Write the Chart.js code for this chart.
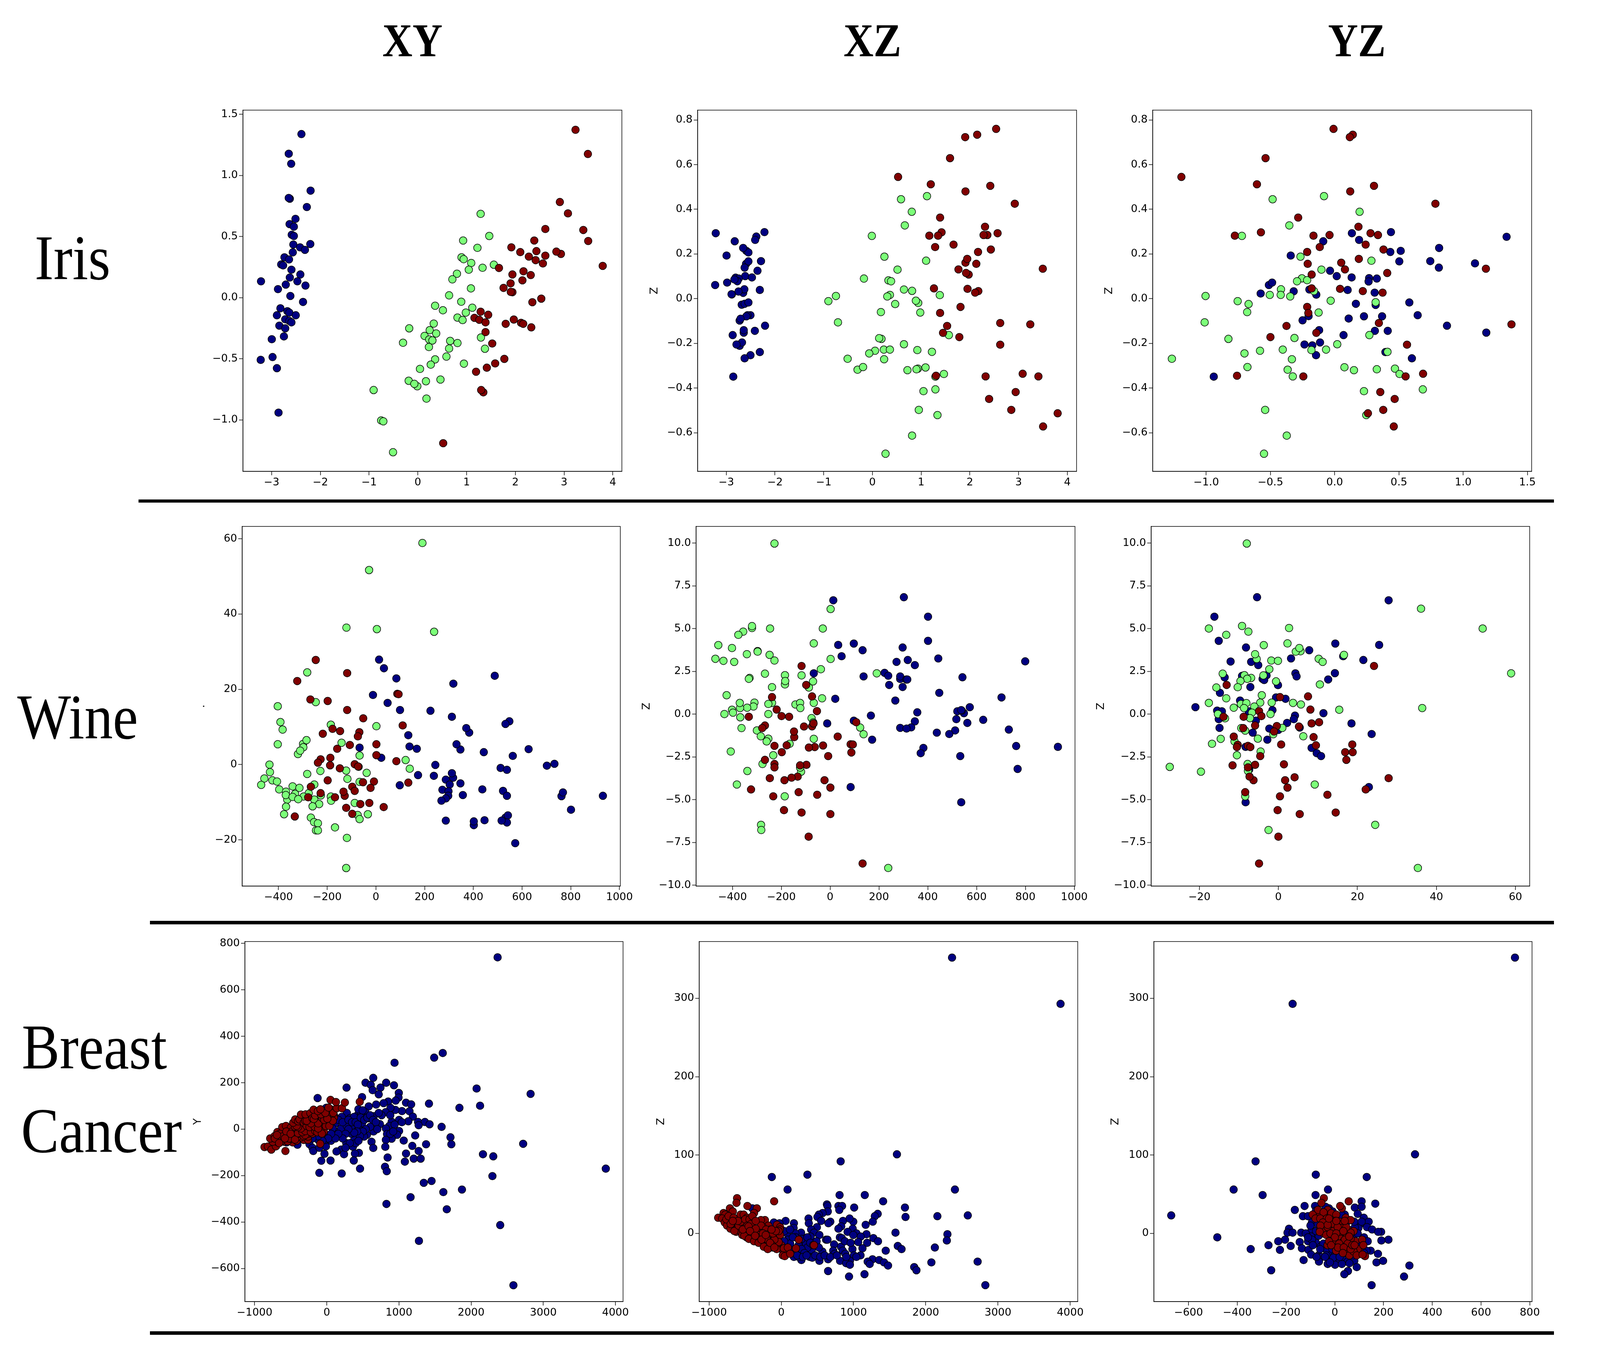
<!DOCTYPE html>
<html>
<head>
<meta charset="utf-8">
<title>PCA projections</title>
<script src="https://cdn.jsdelivr.net/npm/chart.js@4"></script>
<style>
    html, body { margin: 0; padding: 0; background: #ffffff; overflow: hidden; }
    #page { position: relative; width: 100vw; height: 3480px; overflow: hidden; background: #ffffff; }
    #overlay { position: absolute; left: 0; top: 0; width: 4620px; height: 3480px; transform-origin: 0 0; }
    canvas { position: absolute; }
    .head { position: absolute; font-family: "Liberation Serif", serif; color: #000000; line-height: 1; white-space: nowrap; }
    .col { font-size: 120px; font-weight: bold; transform: translateX(-50%); }
    .row { font-size: 164px; }
    .rule { position: absolute; background: #000000; }
</style>
</head>
<body>
<div id="page">
    <div id="overlay">
        <div class="head col" style="left:1191px;top:44px">XY</div>
        <div class="head col" style="left:2519px;top:44px">XZ</div>
        <div class="head col" style="left:3918px;top:44px">YZ</div>
        <div class="head row" style="left:100px;top:578px">Iris</div>
        <div class="head row" style="left:50px;top:1754px">Wine</div>
        <div class="head row" style="left:63px;top:2599px">Breast</div>
        <div class="head row" style="left:61px;top:2813px">Cancer</div>
        <div class="rule" style="left:400px;top:1279px;width:4087px;height:8px"></div>
        <div class="rule" style="left:433px;top:2358px;width:4054px;height:9px"></div>
        <div class="rule" style="left:433px;top:3409px;width:4054px;height:9px"></div>
    </div>
</div>
<script>
const NAVY = '#000080';
const LIME = '#7cff79';
const MAROON = '#800000';

// the window can come out narrower than the 4620 wide reference, so x positions follow it
const SX = window.innerWidth / 4620;

// ---- Iris ----
const irisXYBlue = [[-2.388,1.339],[-2.648,1.178],[-2.598,1.096],[-2.2,.876],[-2.626,.81],[-2.648,.816],[-2.277,.742],[-2.51,.645],[-2.631,.602],[-2.543,.581],[-2.587,.515],[-2.543,.505],[-2.554,.435],[-2.206,.439],[-2.416,.412],[-2.316,.391],[-2.565,.371],[-2.736,.33],[-2.642,.313],[-2.803,.272],[-2.764,.264],[-2.593,.229],[-2.41,.19],[-2.626,.165],[-3.217,.134],[-2.471,.134],[-2.709,.107],[-2.305,.099],[-2.869,.07],[-2.615,.014],[-2.355,-.035],[-2.819,-.087],[-2.676,-.111],[-2.637,-.122],[-2.891,-.144],[-2.504,-.144],[-2.72,-.177],[-2.637,-.19],[-2.593,-.202],[-2.841,-.229],[-2.72,-.251],[-2.747,-.317],[-2.996,-.34],[-2.98,-.486],[-3.223,-.509],[-2.891,-.577],[-2.858,-.941]];
const irisXYGreen = [[1.288,.686],[1.465,.505],[.929,.468],[1.222,.408],[.896,.33],[.94,.315],[1.095,.284],[1.559,.27],[1.327,.245],[1.045,.229],[.802,.196],[.708,.15],[1.089,.076],[.641,.019],[.89,-.033],[.354,-.066],[1.117,-.082],[.514,-.103],[.984,-.122],[.813,-.163],[.918,-.183],[.326,-.212],[-.177,-.251],[.243,-.266],[.376,-.293],[.138,-.313],[1.294,-.326],[.232,-.342],[.299,-.35],[.663,-.354],[.813,-.371],[-.304,-.369],[.227,-.404],[.641,-.416],[1.376,-.418],[.586,-.482],[.354,-.505],[.945,-.54],[.265,-.548],[.044,-.583],[.464,-.67],[-.188,-.68],[.166,-.684],[-.011,-.725],[-.072,-.705],[-.907,-.756],[.177,-.826],[-.752,-1.005],[-.708,-1.012],[-.509,-1.265]];
const irisXYRed = [[3.234,1.374],[3.488,1.176],[2.913,.783],[3.079,.69],[2.615,.562],[3.394,.554],[3.494,.464],[2.388,.468],[1.918,.412],[2.101,.373],[2.432,.381],[2.935,.358],[2.841,.377],[2.277,.336],[2.615,.344],[2.416,.307],[2.565,.28],[3.792,.26],[1.664,.243],[2.167,.216],[1.94,.19],[2.316,.185],[2.145,.142],[1.758,.08],[1.94,.045],[1.907,.047],[1.902,.117],[2.532,-.008],[2.349,-.037],[1.288,-.115],[1.443,-.14],[1.161,-.165],[1.26,-.181],[1.388,-.202],[1.968,-.179],[1.802,-.214],[2.117,-.206],[2.161,-.214],[2.327,-.243],[1.388,-.282],[1.526,-.375],[1.774,-.501],[1.586,-.538],[1.415,-.573],[1.194,-.606],[1.343,-.775],[1.299,-.756],[.52,-1.191]];

const irisXZBlue = [[-3.216,.293],[-2.826,.257],[-2.383,.278],[-2.407,.263],[-2.216,.298],[-2.587,.214],[-2.545,.207],[-2.653,.227],[-2.994,.193],[-2.287,.168],[-2.593,.156],[-2.545,.167],[-2.623,.139],[-2.359,.125],[-2.611,.101],[-2.473,.095],[-2.808,.094],[-2.743,.09],[-2.772,.078],[-2.832,.086],[-2.982,.072],[-3.228,.061],[-2.653,.026],[-2.629,.042],[-2.311,.039],[-2.749,.032],[-2.886,.019],[-2.892,.02],[-2.683,-.027],[-2.623,-.023],[-2.545,-.017],[-2.503,-.074],[-2.563,-.074],[-2.587,-.079],[-2.725,-.098],[-2.707,-.09],[-2.204,-.121],[-2.641,-.152],[-2.641,-.141],[-2.413,-.144],[-2.868,-.163],[-2.725,-.211],[-2.677,-.196],[-2.79,-.205],[-2.311,-.239],[-2.503,-.253],[-2.623,-.267],[-2.856,-.349]];
const irisXZGreen = [[1.12,.459],[.587,.445],[.808,.389],[.665,.328],[-.012,.281],[.246,.188],[1.102,.17],[.515,.13],[-.174,.09],[.329,.082],[.383,.078],[.647,.041],[.814,.035],[.359,.017],[.305,.01],[1.383,.016],[-.749,.012],[-.904,-.011],[.94,-.019],[.892,-.009],[.467,-.024],[.174,-.06],[.982,-.062],[-.707,-.106],[1.569,-.163],[.186,-.18],[.138,-.177],[.647,-.204],[.922,-.23],[.054,-.233],[.234,-.228],[.359,-.228],[1.222,-.238],[-.066,-.245],[-.509,-.269],[.24,-.271],[-.305,-.318],[-.192,-.306],[.719,-.32],[.934,-.313],[.904,-.316],[1.09,-.308],[1.293,-.349],[1.467,-.337],[1.048,-.414],[1.293,-.406],[.952,-.498],[1.335,-.521],[.814,-.613],[.269,-.694]];
const irisXZRed = [[2.539,.76],[1.904,.723],[2.15,.734],[1.593,.629],[.527,.545],[1.198,.512],[2.419,.505],[1.91,.48],[2.922,.425],[1.389,.363],[2.311,.322],[2.359,.285],[2.281,.285],[1.419,.297],[2.569,.293],[1.168,.282],[1.347,.282],[1.665,.242],[1.287,.231],[2.431,.22],[2.168,.209],[1.91,.161],[1.946,.178],[2.132,.156],[3.497,.134],[1.766,.131],[1.976,.108],[1.922,.115],[1.263,.046],[1.952,.044],[2.174,.034],[2.108,.027],[1.808,-.037],[1.389,-.064],[2.623,-.109],[3.24,-.115],[1.533,-.122],[1.449,-.153],[1.784,-.172],[2.623,-.206],[1.305,-.345],[2.323,-.348],[3.084,-.336],[3.407,-.348],[2.94,-.418],[2.395,-.449],[2.85,-.498],[3.802,-.513],[3.503,-.572]];

const irisYZBlue = [[1.338,.277],[.813,.227],[.134,.293],[.19,.263],[.438,.298],[-.089,.257],[.514,.214],[.433,.209],[-.342,.193],[.503,.167],[.744,.168],[1.092,.158],[.811,.139],[-.036,.125],[.016,.101],[.132,.095],[.268,.092],[.328,.09],[.264,.077],[-.512,.061],[-.487,.072],[-.319,.033],[-.576,.023],[-.197,.041],[.101,.039],[.311,.027],[-.143,.018],[.581,-.017],[.165,-.023],[.319,-.028],[.369,-.079],[.646,-.074],[.228,-.079],[.109,-.089],[-.203,-.078],[-.25,-.097],[.874,-.121],[-.121,-.141],[.313,-.144],[.413,-.144],[1.18,-.152],[.069,-.163],[-.114,-.196],[-.235,-.205],[-.174,-.209],[.395,-.239],[-.145,-.253],[.601,-.267],[-.941,-.349]];
const irisYZGreen = [[-.083,.459],[-.483,.445],[.194,.389],[-.353,.328],[-.722,.281],[-.266,.188],[.286,.17],[-.103,.13],[-.255,.091],[-.293,.078],[-.214,.083],[-.418,.042],[-.161,.034],[-.505,.017],[-.42,.017],[-.346,.01],[-1.005,.012],[-.755,-.011],[-.031,-.009],[.319,-.016],[-.67,-.024],[-.681,-.06],[-.125,-.062],[-1.012,-.106],[.27,-.163],[-.827,-.18],[-.313,-.176],[.02,-.204],[.411,-.238],[-.067,-.228],[-.181,-.23],[-.404,-.228],[-.581,-.233],[-.702,-.245],[-1.267,-.269],[-.333,-.271],[-.679,-.306],[-.366,-.318],[.15,-.32],[.076,-.307],[.328,-.316],[.469,-.313],[.505,-.337],[-.326,-.348],[.228,-.414],[.686,-.406],[-.541,-.498],[.246,-.521],[-.373,-.613],[-.55,-.694]];
const irisYZRed = [[-.009,.76],[.141,.734],[.118,.723],[-.538,.629],[-1.193,.545],[-.605,.512],[.306,.505],[.121,.48],[.784,.425],[-.284,.363],[.185,.322],[-.574,.297],[.279,.293],[.337,.285],[-.04,.285],[-.165,.282],[-.777,.282],[.241,.242],[-.116,.231],[.38,.22],[-.214,.209],[.188,.178],[.051,.161],[-.21,.156],[1.177,.134],[.08,.131],[.409,.115],[-.179,.108],[.042,.044],[-.179,.046],[.219,.034],[.373,.027],[-.214,-.037],[-.205,-.064],[-.375,-.122],[.344,-.109],[1.376,-.115],[-.143,-.153],[-.5,-.172],[.563,-.206],[-.76,-.345],[-.244,-.348],[.552,-.348],[.688,-.336],[.355,-.418],[.467,-.449],[.378,-.498],[.259,-.513],[.46,-.572]];

// ---- Wine ----
const wineXYBlue = [[13,27.9],[33,25.6],[84,22.9],[488,23.6],[318,21.5],[-12,18.5],[48,16.4],[99,14.5],[224,14.3],[312,12.7],[548,11.5],[532,10.8],[383,8.5],[371,9.7],[133,7.8],[347,4],[331,5.4],[-67,4.5],[138,4.8],[168,4.2],[443,3.3],[627,4.1],[562,2.3],[22,1.8],[733,.2],[702,-.3],[244,-.1],[512,-.9],[538,-1.4],[173,-2.8],[238,-3],[317,-3.5],[312,-2.3],[287,-4],[347,-5],[303,-5.3],[98,-5.5],[437,-6.6],[762,-8.4],[768,-7.4],[273,-6.7],[298,-7.1],[522,-7],[932,-8.3],[357,-8.1],[538,-8.3],[297,-8.3],[287,-9],[269,-9.6],[801,-12],[532,-14.1],[542,-13.5],[287,-14.9],[446,-14.8],[402,-16.1],[402,-15.1],[538,-15.4],[516,-14.9],[572,-20.9]];
const wineXYGreen = [[191,58.9],[-28,51.7],[-121,36.4],[4,36],[239,35.3],[-282,24.5],[-247,16.6],[-403,15.5],[-392,11.3],[-383,9.3],[-185,10.6],[2,10.2],[-403,5.4],[-299,5.5],[-285,6.5],[-298,4.6],[-141,5.8],[-320,2.8],[-311,3.7],[-67,2.4],[122,1.2],[-437,0],[-71,-.6],[139,-1.1],[-435,-2],[-122,-1.6],[-228,-1.7],[-38,-2.2],[-282,-2.5],[-458,-3.7],[-425,-4.2],[-406,-4.5],[-117,-3.8],[-67,-4.6],[-253,-5.3],[-471,-5.4],[-342,-5.8],[-314,-6.2],[-397,-6.6],[-276,-7.6],[-369,-7.2],[-332,-7.8],[-226,-8.2],[-297,-8.5],[-185,-8.5],[-364,-9.3],[-370,-8.1],[-342,-8.6],[-319,-9.2],[-253,-9.3],[-184,-9.6],[-87,-10.2],[-233,-10.5],[-260,-11.1],[-369,-11.2],[-377,-13.2],[-75,-13.4],[-33,-13.2],[-267,-14.1],[-67,-14.5],[-254,-15.3],[-246,-17.5],[-238,-15.6],[-238,-17.5],[-168,-16.7],[-119,-19.5],[-122,-27.5]];
const wineXYRed = [[-247,27.8],[-118,24.3],[-323,22.2],[88,18.8],[93,18.7],[-269,17.3],[-198,16.9],[-118,14.5],[-52,12.3],[110,10.4],[-178,9.5],[-147,8.9],[-68,8.6],[-218,8.2],[-74,7.5],[-107,5.2],[2,5.4],[-159,4.2],[2,2.5],[-187,1.8],[-227,1.4],[84,.9],[-238,.5],[-87,.1],[-188,-.2],[-73,-.5],[-148,-1],[-198,-4.2],[-8,-4.5],[-53,-4.7],[133,-4.8],[-97,-5.9],[-267,-5.9],[-22,-6.2],[-87,-7],[-128,-8.3],[-133,-7.2],[-227,-7.6],[-278,-8.7],[-168,-8.7],[-27,-10.2],[-64,-10.5],[32,-11.3],[-122,-11.5],[-97,-13.1],[-333,-13.8]];

const wineXZBlue = [[302,6.84],[13,6.66],[401,5.7],[401,4.29],[97,4.13],[33,4.05],[133,3.74],[297,3.9],[47,3.39],[443,3.26],[799,3.09],[272,3.06],[318,3.17],[347,2.87],[-67,2.39],[223,2.42],[238,2.25],[137,2.21],[287,2.06],[287,2.21],[542,2.16],[312,2.03],[316,2.03],[242,1.71],[297,1.59],[447,1.25],[21,.9],[702,.98],[267,.8],[572,.41],[357,.11],[548,.06],[521,.17],[539,.21],[537,.24],[167,-.08],[517,-.29],[627,-.33],[97,-.38],[347,-.42],[562,-.51],[-12,-.54],[332,-.77],[287,-.8],[313,-.84],[732,-.9],[512,-.95],[437,-1.08],[488,-1.16],[172,-1.49],[762,-1.86],[933,-1.91],[382,-1.97],[371,-2.28],[533,-2.45],[768,-3.2],[84,-4.26],[537,-5.15]];
const wineXZGreen = [[-228,9.98],[2,6.15],[-320,5.04],[-320,5.15],[-356,4.83],[-376,4.64],[-246,5.01],[-30,5.01],[-67,4.14],[-458,4.04],[-402,3.87],[-297,3.69],[-297,3.66],[-341,3.51],[-248,3.47],[-470,3.24],[-437,3.12],[-393,3.06],[-228,3.14],[2,3.23],[-38,2.63],[191,2.39],[-267,2.37],[-185,2.28],[-117,2.27],[-330,2.12],[-333,2.07],[-70,1.92],[-185,1.74],[-184,1.94],[-87,1.56],[-238,1.58],[-424,1.11],[-33,.93],[-67,.66],[-310,.68],[-238,.66],[-253,.6],[-142,.57],[-123,.66],[-314,.45],[-340,.38],[-369,.36],[-370,.66],[-122,.36],[-402,.26],[-398,.09],[-433,.01],[-253,.01],[-368,-.18],[-76,-.23],[-69,-.48],[-363,-.81],[123,-.78],[-300,-.95],[137,-1.17],[-284,-1.29],[-253,-1.43],[-67,-1.44],[-166,-1.73],[-260,-1.59],[-407,-2.18],[-233,-2.4],[-277,-2.91],[-119,-3.36],[-123,-3.12],[-339,-3.32],[-382,-4.11],[-186,-4.8],[-283,-6.47],[-282,-6.77],[238,-8.99]];
const wineXZRed = [[-117,2.82],[-98,1.71],[-238,1],[-74,1.04],[-219,.27],[-54,.18],[-199,-.11],[-168,-.15],[-333,-.15],[107,-.47],[-74,-.71],[-68,-.54],[-267,-.66],[-107,-.72],[-278,-.81],[-147,-1.34],[-148,-1.01],[31,-1.31],[84,-1.76],[93,-1.77],[-29,-1.83],[-178,-1.82],[-228,-1.85],[-63,-1.92],[-87,-1.95],[-198,-2.22],[87,-2.24],[-8,-2.45],[-267,-2.67],[-228,-2.91],[-97,-2.96],[-123,-2.99],[-228,-3.11],[-133,-3.65],[-158,-3.71],[-247,-3.74],[-187,-3.86],[-23,-3.86],[1,-4.29],[-324,-4.4],[-129,-4.56],[-53,-4.71],[-233,-4.8],[-189,-5.61],[-117,-5.75],[1,-5.84],[-88,-7.16],[133,-8.73]];

const wineYZBlue = [[-5.4,6.84],[27.9,6.66],[-16.2,5.7],[-15.1,4.29],[14.4,4.13],[25.5,4.05],[-8.2,3.9],[7.8,3.74],[16.4,3.39],[3.2,3.26],[21.5,3.17],[-12.1,3.08],[-6.9,3.06],[-5.1,2.87],[4.3,2.39],[14.3,2.4],[4.6,2.21],[-3,2.27],[-13.6,2.15],[-9.2,2.24],[-4,2.06],[-3.6,2],[12.6,2.03],[-7.1,1.59],[-.1,1.7],[-14.8,1.25],[-.6,.98],[1.8,.9],[-9.7,.8],[-21,.41],[-15.5,.21],[-14.3,.17],[-7.5,.17],[-1.5,.24],[11.4,.06],[4.2,-.08],[-15.1,-.29],[3.9,-.29],[-5.7,-.38],[2.2,-.51],[18.5,-.54],[-14.9,-.8],[5.4,-.78],[-2.3,-.84],[0,-.92],[-6.5,-1.08],[23.6,-1.16],[-2.8,-1.49],[8.4,-1.97],[-8.3,-1.91],[9.7,-2.28],[10.8,-2.45],[-7.4,-3.24],[22.9,-4.26],[-8.3,-5.15]];
const wineYZGreen = [[-8,9.98],[36.1,6.17],[51.7,5.01],[-17.6,5.01],[2.7,5.04],[-9.2,5.16],[-7.6,4.83],[-13.2,4.64],[-3.7,4.04],[2.3,4.14],[5.6,3.68],[4.4,3.66],[5.3,3.87],[-5.5,3.23],[-5.9,3.51],[16.6,3.47],[10.2,3.24],[11.2,3.06],[-1.8,3.14],[-.1,3.12],[-2.3,2.63],[-14.1,2.37],[58.9,2.39],[-8.6,2.28],[-3.8,2.27],[-6.9,2.12],[-7.9,2.07],[-9.6,1.94],[-.6,1.92],[10.5,1.74],[-15.7,1.56],[-10.3,1.58],[-4.2,1.11],[-13.2,.93],[-17.6,.66],[-1.7,.68],[-4.6,.68],[3.7,.66],[-9.5,.59],[-8.1,.65],[5.7,.57],[-8.7,.36],[-6.1,.45],[-11.3,.38],[36.4,.36],[15.4,.26],[-6.7,.09],[-15.3,.01],[-2,.01],[-13.5,-.24],[-7.2,-.23],[1,-.8],[-9.4,-.81],[-8.4,-.96],[-1.3,-1.17],[6.3,-1.29],[-5.2,-1.43],[-14.6,-1.44],[-11.1,-1.59],[-16.8,-1.73],[-4.5,-2.18],[-10.5,-2.4],[-7.8,-2.91],[-27.5,-3.08],[-7.6,-3.12],[-19.6,-3.36],[-7.7,-3.32],[9.2,-4.11],[-8.4,-4.8],[24.5,-6.47],[-2.5,-6.77],[35.3,-8.99]];
const wineYZRed = [[24.2,2.82],[-13.1,1.71],[7.5,1.04],[.4,1],[8.1,.27],[-4.9,.18],[-4.3,-.11],[-8.8,-.15],[-13.9,-.15],[10.3,-.47],[8.4,-.54],[-5.9,-.66],[5.2,-.72],[-.4,-.69],[-8.9,-.81],[-1.1,-1.01],[8.9,-1.34],[-11.3,-1.31],[18.7,-1.77],[.7,-1.77],[9.5,-1.82],[-10.3,-1.79],[-7.7,-1.85],[-7.1,-1.92],[-10.5,-1.92],[16.9,-2.22],[18.8,-2.22],[-4.6,-2.45],[17.2,-2.67],[1.4,-2.93],[-11.6,-2.99],[-5.9,-2.96],[-7.7,-3.11],[4.1,-3.69],[-6.3,-3.86],[-7.3,-3.65],[27.9,-3.74],[1.7,-3.86],[2.3,-4.29],[22.1,-4.4],[-8.4,-4.56],[12.4,-4.71],[.4,-4.8],[-.2,-5.61],[14.5,-5.75],[5.4,-5.84],[0,-7.16],[-4.9,-8.73]];

// ---- Breast cancer ----
const breastXYBlue = [[2367,740],[1607,328],[1488,308],[939,286],[644,221],[537,200],[609,191],[636,168],[823,200],[931,189],[744,179],[274,179],[720,150],[489,138],[-127,134],[998,156],[2076,175],[2824,152],[2124,101],[1838,92],[1416,110],[994,136],[955,123],[851,119],[788,112],[684,106],[581,98],[1098,114],[1169,107],[1146,77],[1042,78],[951,83],[883,92],[815,73],[652,56],[533,73],[430,62],[278,70],[318,47],[207,53],[581,47],[1193,54],[1130,34],[1002,40],[899,32],[1265,31],[1360,31],[1273,17],[1424,21],[1591,10],[736,22],[648,19],[867,14],[489,25],[239,21],[342,12],[445,0],[648,-10],[819,3],[1002,-8],[835,-21],[975,-24],[899,-41],[1225,-27],[1714,-35],[1726,-65],[1376,-65],[1066,-49],[819,-46],[620,-54],[557,-24],[517,-32],[382,-44],[338,-19],[247,-15],[103,-6],[187,-32],[60,-50],[270,-60],[1185,-72],[811,-76],[644,-81],[362,-76],[-12,-74],[-406,-67],[-239,-65],[-199,-80],[-187,-94],[-103,-80],[-32,-106],[199,-88],[135,-96],[239,-108],[445,-102],[390,-105],[1098,-105],[1273,-94],[2164,-108],[2721,-63],[2307,-117],[843,-122],[1082,-140],[1205,-127],[1301,-127],[-76,-136],[52,-135],[374,-135],[461,-170],[-103,-188],[207,-191],[807,-162],[831,-181],[3866,-170],[2295,-202],[1452,-223],[1344,-231],[1873,-260],[1615,-271],[1161,-293],[827,-322],[1663,-345],[2403,-413],[1277,-481],[2586,-672],[-8,92],[40,59],[119,25],[80,3],[-40,-19],[-159,-30],[-278,-35],[199,3],[278,14],[378,53],[477,70],[438,86],[497,81],[-20,-46],[-119,-46],[-318,-46],[-557,-57],[-716,-57],[100,60],[160,40],[220,30],[300,40],[350,30],[400,30],[430,20],[470,50],[520,40],[560,50],[600,60],[640,40],[680,30],[700,0],[600,10],[540,0],[500,-10],[460,-30],[420,-10],[380,-15],[300,0],[260,-20],[220,-40],[160,-20],[120,-40],[60,-20],[20,-40],[-60,-50],[-120,-30],[-200,-40],[-250,-20],[400,-60],[440,-50],[320,-60],[260,-80],[760,60],[720,70],[880,60],[940,20],[880,-20],[920,-10],[1040,30]];
const breastXYRed = [[-863,-77],[-815,-75],[-768,-88],[-573,-94],[-91,-63],[-704,-74],[-473,-57],[-597,-54],[-628,-52],[-541,-52],[-318,-46],[-259,-46],[-418,-50],[-497,-41],[-736,-46],[-676,-57],[-636,-35],[-748,-54],[-784,-40],[-724,-30],[-668,-43],[-557,-30],[-477,-24],[-358,-35],[-406,-33],[-259,-32],[-597,-13],[-537,-19],[-636,-15],[-684,-12],[-517,-2],[-457,-2],[-577,9],[-617,9],[-565,14],[-497,7],[-720,-40],[-650,-20],[-600,-30],[-560,-10],[-520,-40],[-480,-10],[-440,-30],[-400,-10],[-360,-20],[-320,-30],[-300,10],[-260,-20],[-240,20],[-200,0],[-180,30],[-140,20],[-100,40],[-80,20],[-40,20],[-20,50],[20,60],[-60,80],[-140,60],[-260,50],[-320,50],[-380,30],[-440,10],[-500,-20],[-580,-40],[-660,-60],[-690,-25],[-440,-45],[-300,-25],[-180,-10],[-100,-5],[60,85],[100,50],[-40,-10],[-398,-17],[-338,-13],[-298,-8],[-199,-19],[-219,-13],[-159,-8],[-131,-13],[-68,-19],[-358,3],[-398,9],[-418,14],[-465,28],[-438,42],[-398,34],[-378,42],[-318,28],[-278,14],[-239,9],[-167,10],[-119,3],[-219,25],[-119,25],[-12,13],[36,14],[84,36],[-298,36],[-278,36],[-358,63],[-294,64],[-227,69],[-199,47],[-179,44],[-159,59],[-60,47],[-36,40],[8,45],[-80,64],[-20,70],[91,70],[-183,84],[-123,78],[-88,86],[24,93],[139,90],[211,90],[52,126],[127,117],[251,115],[457,118]];

const breastXZBlue = [[2364,352],[3866,293],[1601,101],[822,92],[362,75],[-131,72],[87,56],[2404,56],[807,49],[1156,49],[1410,41],[632,37],[640,35],[791,35],[842,35],[803,30],[1009,33],[1712,33],[644,28],[572,26],[520,24],[1335,25],[1295,22],[501,21],[1720,21],[2161,22],[2582,23],[377,19],[60,16],[552,16],[679,15],[-103,14],[-24,13],[175,13],[381,13],[652,13],[854,16],[997,15],[1267,15],[1168,11],[946,19],[830,9],[791,6],[493,8],[413,5],[171,7],[989,6],[274,1],[453,1],[918,2],[1041,0],[1581,1],[2300,-1],[1180,-1],[997,-2],[528,-2],[79,0],[195,0],[405,-4],[811,-5],[838,-6],[1100,-4],[1275,-6],[620,-8],[640,-8],[91,-8],[322,-10],[2292,-9],[1339,-10],[1065,-11],[1188,-12],[489,-10],[731,-14],[826,-17],[1613,-16],[985,-20],[1124,-19],[1665,-20],[2126,-18],[1446,-22],[421,-21],[850,-22],[719,-22],[568,-23],[242,-23],[175,-30],[739,-26],[886,-26],[1005,-28],[1097,-28],[393,-30],[429,-31],[648,-33],[278,-34],[528,-35],[814,-35],[950,-35],[1263,-33],[1196,-36],[1355,-34],[1422,-37],[2078,-37],[2718,-36],[898,-38],[950,-40],[1224,-39],[1478,-41],[1840,-43],[1871,-47],[648,-48],[1152,-52],[938,-55],[2825,-66],[-401,32],[44,3],[-115,-18],[123,-13],[4,-20],[163,-23],[342,-13],[282,-7],[362,-18],[83,-25],[242,-30],[120,5],[200,-5],[240,-15],[280,-20],[320,-25],[360,-5],[400,-12],[440,-15],[470,-28],[120,-22],[80,-18],[40,-10],[160,-5],[220,-28],[300,-30],[350,-28],[520,-18],[540,-30],[600,-28],[680,-30],[880,-10],[960,-12],[900,-30],[770,-28],[1040,-30]];
const breastXZRed = [[-612,45],[-620,39],[-469,35],[-338,32],[-99,41],[-711,32],[-799,26],[-775,24],[-671,28],[-377,26],[-874,20],[-818,19],[-564,24],[-520,24],[-477,20],[-711,18],[-226,17],[-282,17],[-783,14],[-640,13],[-520,12],[-401,13],[-60,11],[-16,8],[-751,10],[-624,9],[-306,5],[-179,10],[-703,6],[-624,2],[-552,1],[-481,3],[-254,8],[-760,18],[-730,22],[-700,12],[-660,20],[-600,8],[-580,14],[-650,3],[-590,10],[-560,15],[-500,18],[-440,18],[-420,-3],[-380,5],[-330,-3],[-300,-8],[-280,10],[-240,-3],[-220,-12],[-180,-10],[-150,5],[-130,-8],[-100,-3],[-60,-8],[-40,-16],[0,-15],[20,-20],[-20,5],[-480,-5],[-540,-2],[-470,10],[-420,12],[-400,22],[-300,-2],[-210,5],[60,-22],[-150,-18],[-16,-2],[-179,-1],[-409,-2],[-512,-3],[-322,-5],[-449,-7],[-203,-7],[242,-8],[-377,-10],[-314,-12],[-36,-11],[-95,-8],[-127,-15],[-242,-17],[-187,-20],[-64,-20],[36,-19],[91,-18],[203,-19],[453,-15],[20,-28],[48,-29],[123,-26],[-600,16],[-532,5],[-453,9],[-354,16],[-354,6],[-254,0],[-115,0],[-36,3],[-274,-8],[-155,-12],[-95,-18],[-671,16],[-433,3],[-75,3],[-135,5],[-215,-2],[-362,-3]];

const breastYZBlue = [[739,352],[-173,293],[329,101],[-325,92],[-78,75],[131,72],[-28,56],[-415,56],[-79,49],[-296,49],[110,41],[166,38],[-81,35],[-124,35],[82,33],[110,34],[-164,30],[94,25],[-131,22],[-110,22],[119,20],[-671,23],[41,24],[-94,14],[139,15],[104,12],[132,8],[97,7],[82,8],[-188,6],[-95,5],[153,5],[190,2],[178,2],[-194,1],[-173,1],[-138,1],[-119,0],[-66,-3],[-97,-4],[220,-8],[191,-9],[-482,-5],[-204,-8],[-232,-10],[-144,-11],[-110,-10],[-77,-12],[-94,-8],[-272,-15],[-181,-16],[-135,-19],[-345,-20],[-225,-21],[-108,-21],[-44,-19],[-58,-17],[147,-22],[130,-22],[177,-26],[-97,-27],[-67,-28],[-55,-30],[-9,-27],[-29,-26],[-128,-34],[-65,-36],[-11,-34],[29,-33],[65,-34],[80,-35],[51,-36],[18,-37],[-29,-39],[1,-40],[29,-39],[171,-37],[198,-35],[90,-43],[54,-48],[39,-52],[-261,-47],[306,-41],[284,-55],[151,-66],[-24,32],[-9,28],[-38,34],[-77,29],[29,23],[6,-23],[-35,-20],[-12,-13],[29,-30],[-6,-31],[-47,-13],[-77,3],[-53,9],[77,-7],[94,0],[112,-13],[100,-26],[77,-28],[-77,21],[-35,-28],[-50,10],[-30,0],[-60,-20],[-90,-15],[-40,-30],[20,-30],[60,-25],[100,-15],[120,-5],[50,15],[80,15],[110,15],[-70,12],[-60,25],[-100,10],[-110,-5],[-75,-30],[40,-20],[85,-18],[120,-25],[60,-38],[-10,-20],[-20,-37],[135,-10]];
const breastYZRed = [[-60,5],[-40,15],[-20,25],[0,20],[20,15],[45,20],[55,5],[-45,0],[-15,-8],[10,-15],[25,-15],[45,-25],[60,-5],[75,-20],[-65,22],[-40,5],[-10,8],[15,3],[30,-20],[50,-5],[85,-10],[100,-22],[-30,-15],[5,-22],[60,-28],[-45,45],[-55,39],[57,41],[29,32],[22,35],[-69,30],[-29,30],[-91,24],[-46,27],[-14,26],[6,24],[-79,19],[-60,19],[-33,19],[65,17],[2,16],[-20,13],[-4,12],[-49,14],[35,13],[-59,10],[-29,8],[29,7],[-6,3],[77,3],[-62,2],[65,1],[41,-1],[-35,-2],[20,-4],[25,-7],[112,-8],[0,-10],[37,-10],[65,-7],[-29,11],[12,8],[47,8],[-18,0],[6,0],[41,-8],[0,-5],[-24,-10],[18,-13],[53,-13],[94,-20],[77,-23],[59,-4],[35,3],[6,16],[-24,19],[41,16],[13,-18],[37,-18],[65,-20],[33,-25],[90,-28],[124,-29],[114,-27],[-15,-15],[117,-15],[72,-15],[81,-15]];

// ---- tick lists ----
const irisXTicks = [-3, -2, -1, 0, 1, 2, 3, 4];
const irisYTicks = [-1, -0.5, 0, 0.5, 1, 1.5];
const irisZTicks = [-0.6, -0.4, -0.2, 0, 0.2, 0.4, 0.6, 0.8];
const irisYZXTicks = [-1, -0.5, 0, 0.5, 1, 1.5];
const wineXTicks = [-400, -200, 0, 200, 400, 600, 800, 1000];
const wineYTicks = [-20, 0, 20, 40, 60];
const wineZTicks = [-10, -7.5, -5, -2.5, 0, 2.5, 5, 7.5, 10];
const wineYZXTicks = [-20, 0, 20, 40, 60];
const breastXTicks = [-1000, 0, 1000, 2000, 3000, 4000];
const breastYTicks = [-600, -400, -200, 0, 200, 400, 600, 800];
const breastZTicks = [0, 100, 200, 300];
const breastYZXTicks = [-600, -400, -200, 0, 200, 400, 600, 800];

const frame = {
    id: 'frame',
    afterDraw(chart) {
        const { ctx, chartArea } = chart;
        ctx.save();
        ctx.strokeStyle = '#000000';
        ctx.lineWidth = 1.5;
        ctx.strokeRect(chartArea.left, chartArea.top, chartArea.right - chartArea.left, chartArea.bottom - chartArea.top);
        ctx.restore();
    },
};

function points(list) {
    return list.map((item) => ({ x: item[0], y: item[1] }));
}

function axis(position, range, ticks, decimals, thickness, titleText) {
    return {
        type: 'linear',
        position,
        min: range[0],
        max: range[1],
        title: {
            display: Boolean(titleText),
            text: titleText || '',
            color: '#000000',
            padding: 4,
            font: { family: 'DejaVu Sans', size: 27 },
        },
        border: { display: true, color: '#000000', width: 1.5 },
        grid: { drawOnChartArea: false, drawTicks: true, tickLength: 10, tickWidth: 1.5, tickColor: '#000000' },
        ticks: {
            autoSkip: false,
            maxRotation: 0,
            minRotation: 0,
            padding: 3,
            color: '#000000',
            font: { family: 'DejaVu Sans', size: 27 },
            callback: (value) => value.toFixed(decimals).replace('-', '\u2212'),
        },
        afterBuildTicks: (scale) => {
            scale.ticks = ticks.map((value) => ({ value }));
        },
        afterFit: (scale) => {
            if (position === 'left') {
                scale.width = thickness;
            } else {
                scale.height = thickness;
            }
        },
    };
}

function panel(box, blue, green, red, xRange, yRange, xTicks, yTicks, xDecimals, yDecimals, yTitle, titleX) {
    const left = Math.round(box[0] * SX);
    const right = Math.round(box[1] * SX);
    const top = box[2];
    const bottom = box[3];
    const canvasLeft = titleX ? Math.round(titleX * SX) - 18 : left - 140;
    const canvas = document.createElement('canvas');
    canvas.width = right - canvasLeft + 60;
    canvas.height = bottom - top + 30 + 60;
    canvas.style.left = `${canvasLeft}px`;
    canvas.style.top = `${top - 30}px`;
    document.getElementById('page').appendChild(canvas);

    const datasets = [
        { label: 'Class 0', data: points(blue), backgroundColor: NAVY, order: 3 },
        { label: 'Class 2', data: points(red), backgroundColor: MAROON, order: 1 },
    ];
    if (green) {
        datasets.push({ label: 'Class 1', data: points(green), backgroundColor: LIME, order: 2 });
    }
    datasets.forEach((dataset) => {
        dataset.borderColor = '#000000';
        dataset.borderWidth = 1.5;
        dataset.pointRadius = 9.7;
        dataset.pointHoverRadius = 9.7;
    });

    new Chart(canvas, {
        type: 'scatter',
        data: { datasets },
        plugins: [frame],
        options: {
            responsive: false,
            devicePixelRatio: 1,
            animation: false,
            events: [],
            layout: { padding: { top: 30, right: 60, left: 0, bottom: 0 } },
            plugins: { legend: { display: false }, tooltip: { enabled: false } },
            scales: {
                x: axis('bottom', xRange, xTicks, xDecimals, 60),
                y: axis('left', yRange, yTicks, yDecimals, left - canvasLeft, yTitle),
            },
        },
    });
}

document.getElementById('overlay').style.transform = `scaleX(${SX})`;

panel([702, 1796, 282, 1207], irisXYBlue, irisXYGreen, irisXYRed, [-3.587, 4.185], [-1.4215, 1.535], irisXTicks, irisYTicks, 0, 1);
panel([2015, 3109, 282, 1207], irisXZBlue, irisXZGreen, irisXZRed, [-3.587, 4.19], [-0.773, 0.844], irisXTicks, irisZTicks, 0, 1, 'Z', 1888);
panel([3329, 4423, 282, 1207], irisYZBlue, irisYZGreen, irisYZRed, [-1.416, 1.533], [-0.773, 0.844], irisYZXTicks, irisZTicks, 1, 1, 'Z', 3201);

panel([699, 1791, 1348, 2269], wineXYBlue, wineXYGreen, wineXYRed, [-549, 1003.5], [-32.3, 63.3], wineXTicks, wineYTicks, 0, 0, '.', 580);
panel([2010, 3104, 1348, 2269], wineXZBlue, wineXZGreen, wineXZRed, [-549, 1003], [-10.05, 10.98], wineXTicks, wineZTicks, 0, 1, 'Z', 1866);
panel([3324, 4417, 1348, 2269], wineYZBlue, wineYZGreen, wineYZRed, [-32.2, 63.6], [-10.05, 10.98], wineYZXTicks, wineZTicks, 0, 1, 'Z', 3177);

panel([707, 1799, 2411, 3333], breastXYBlue, null, breastXYRed, [-1134, 4105], [-742.5, 808], breastXTicks, breastYTicks, 0, 0, 'Y', 570);
panel([2019, 3112, 2411, 3333], breastXZBlue, null, breastXZRed, [-1136, 4104], [-87, 372.5], breastXTicks, breastZTicks, 0, 0, 'Z', 1907);
panel([3332, 4424, 2411, 3333], breastYZBlue, null, breastYZRed, [-742, 809], [-87, 372.5], breastYZXTicks, breastZTicks, 0, 0, 'Z', 3219);
</script>
</body>
</html>
